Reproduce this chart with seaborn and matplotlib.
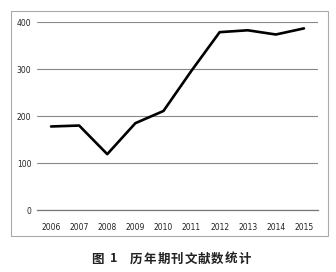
import matplotlib
matplotlib.use("Agg")
import matplotlib.pyplot as plt
import seaborn as sns
import pandas as pd
import numpy as np
from matplotlib.patches import Rectangle

years = ["2006", "2007", "2008", "2009", "2010", "2011", "2012", "2013", "2014", "2015"]
counts = [178, 180, 119, 185, 211, 297, 379, 383, 374, 387]
yticks = [0, 100, 200, 300, 400]
title_label = "图 1"
title_text = "历年期刊文献数统计"

sns.set_style("white")
plt.rcParams['font.family'] = ['DejaVu Sans', 'Noto Sans CJK SC']

fig = plt.figure(figsize=(3.36, 2.72), dpi=100)
ax = fig.add_axes([37/336, 1-210/272, (318-37)/336, (210-22.3)/272])

df = pd.DataFrame({"year": years, "count": counts})
df["pos"] = np.arange(len(years))
sns.lineplot(data=df, x="pos", y="count", ax=ax, color="black", linewidth=1.9)

ax.set_xlim(-0.5, len(years) - 0.5)
ax.set_ylim(0, 400)
ax.set_yticks(yticks)
ax.set_yticklabels([str(v) for v in yticks], fontsize=5.5, color="#222222")
ax.set_xticks(np.arange(len(years)))
ax.set_xticklabels(years, fontsize=5.5, color="#222222")
ax.set_xticks(np.arange(len(years) + 1) - 0.5, minor=True)
ax.tick_params(axis="x", which="major", length=0, pad=9)
ax.tick_params(axis="x", which="minor", length=3, color="#777777", width=0.8, direction="out")
ax.tick_params(axis="y", length=0, pad=4)
ax.set_xlabel("")
ax.set_ylabel("")
ax.grid(axis="y", color="#888888", linewidth=0.8)
for s in ["top", "right", "left"]:
    ax.spines[s].set_visible(False)
ax.spines["bottom"].set_color("#777777")
ax.spines["bottom"].set_linewidth(0.9)
ax.set_axisbelow(True)

fig.patches.append(Rectangle((10.7/336, 1-236/272), (327.7-10.7)/336, (236-11)/272,
                             transform=fig.transFigure, fill=False,
                             edgecolor="#aaaaaa", linewidth=0.8))

cjk = ['Noto Sans CJK SC', 'DejaVu Sans']
ty = 1 - 259/272
fig.text(97.5/336, ty, title_label[0], ha="center", va="center", fontsize=9,
         fontweight="bold", family=cjk, color="#222222")
fig.text(114/336, ty, title_label[-1], ha="center", va="center", fontsize=9,
         fontweight="bold", family=cjk, color="#222222")
pitch = 13.5
x0 = 130 + 6.5
for i, ch in enumerate(title_text):
    fig.text((x0 + i*pitch)/336, ty, ch, ha="center", va="center", fontsize=9,
             fontweight="bold", family=cjk, color="#222222")

fig.savefig("out.png", dpi=100)
